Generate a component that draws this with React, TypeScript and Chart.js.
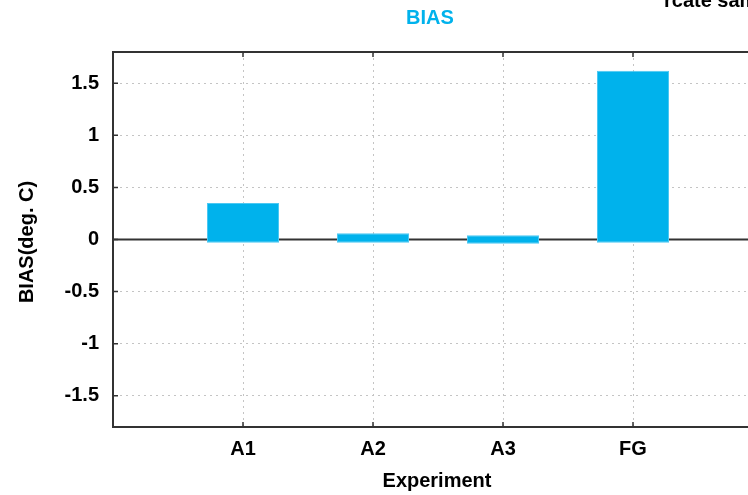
import React, { useEffect, useRef } from "react";
import { Chart, registerables } from "chart.js";

Chart.register(...registerables);

const categories = ["A1", "A2", "A3", "FG"];
const positions = [1, 2, 3, 4];
const barTops = [0.35, 0.06, 0.04, 1.62];
const barBases = [-0.03, -0.03, -0.04, -0.03];
const yTicks = [-1.5, -1, -0.5, 0, 0.5, 1, 1.5];
const titleText = "BIAS";
const yTitle = "BIAS(deg. C)";
const xTitle = "Experiment";
const cornerText = "rcate samples";

const FONT = "'Liberation Sans', Arial, Helvetica, sans-serif";
const CYAN = "#00b2ec";
const AXIS = "#333333";

const decorPlugin = {
  id: "decor",
  beforeDatasetsDraw(chart: any) {
    const { ctx, chartArea, scales } = chart;
    const y0 = scales.y.getPixelForValue(0);
    ctx.save();
    ctx.strokeStyle = AXIS;
    ctx.lineWidth = 2;
    ctx.beginPath();
    ctx.moveTo(chartArea.left, y0);
    ctx.lineTo(chartArea.right, y0);
    ctx.stroke();
    ctx.restore();
  },
  afterDraw(chart: any) {
    const { ctx, chartArea, scales } = chart;
    ctx.save();
    // top border
    ctx.strokeStyle = AXIS;
    ctx.lineWidth = 2;
    ctx.beginPath();
    ctx.moveTo(chartArea.left, chartArea.top);
    ctx.lineTo(chartArea.right, chartArea.top);
    ctx.stroke();
    // inward tick marks
    ctx.lineWidth = 1.5;
    ctx.beginPath();
    positions.forEach((p) => {
      const x = scales.x.getPixelForValue(p);
      ctx.moveTo(x, chartArea.bottom);
      ctx.lineTo(x, chartArea.bottom - 5);
      ctx.moveTo(x, chartArea.top);
      ctx.lineTo(x, chartArea.top + 5);
    });
    yTicks.forEach((v) => {
      const y = scales.y.getPixelForValue(v);
      ctx.moveTo(chartArea.left, y);
      ctx.lineTo(chartArea.left + 5, y);
    });
    ctx.stroke();
    // title
    ctx.fillStyle = CYAN;
    ctx.font = `bold 20px ${FONT}`;
    ctx.textAlign = "center";
    ctx.textBaseline = "middle";
    ctx.fillText(titleText, 430, 18);
    // corner text (cut off)
    ctx.fillStyle = "#000";
    ctx.textAlign = "left";
    ctx.textBaseline = "alphabetic";
    ctx.fillText(cornerText, 664, 7);
    // x title
    ctx.textAlign = "center";
    ctx.textBaseline = "middle";
    ctx.fillText(xTitle, 437, 481);
    // y title
    ctx.translate(27, 242);
    ctx.rotate(-Math.PI / 2);
    ctx.fillText(yTitle, 0, 0);
    ctx.restore();
  },
};

export default function App() {
  const ref = useRef<HTMLCanvasElement | null>(null);
  useEffect(() => {
    if (!ref.current) return;
    const chart = new Chart(ref.current, {
      type: "bar",
      data: {
        datasets: [
          {
            data: positions.map((p, i) => ({ x: p, y: [barBases[i], barTops[i]] })) as any,
            backgroundColor: CYAN,
            borderColor: "#4cc8f2",
            borderWidth: 1,
            borderSkipped: false,
            categoryPercentage: 1,
            barPercentage: 0.554,
          },
        ],
      },
      options: {
        animation: false,
        responsive: true,
        maintainAspectRatio: false,
        layout: { padding: { left: 0, top: 52, right: 37, bottom: 0 } },
        plugins: { legend: { display: false }, tooltip: { enabled: false } },
        scales: {
          x: {
            type: "linear",
            min: 0,
            max: 5,
            offset: false,
            afterBuildTicks: (s: any) => {
              s.ticks = positions.map((v) => ({ value: v }));
            },
            afterFit: (s: any) => {
              s.height = 68;
            },
            ticks: {
              autoSkip: false,
              maxRotation: 0,
              padding: 10,
              color: "#000",
              font: { family: FONT, size: 20, weight: "bold" },
              callback: (v: any) => categories[positions.indexOf(Number(v))] ?? "",
            },
            grid: {
              offset: false,
              drawTicks: false,
              color: "#c4c4c4",
              lineWidth: 1,
            },
            border: { display: true, color: AXIS, width: 2, dash: [2, 4] } as any,
          },
          y: {
            type: "linear",
            min: -1.8,
            max: 1.8,
            afterBuildTicks: (s: any) => {
              s.ticks = yTicks.map((v) => ({ value: v }));
            },
            afterFit: (s: any) => {
              s.width = 113;
            },
            ticks: {
              padding: 14,
              color: "#000",
              font: { family: FONT, size: 20, weight: "bold" },
              callback: (v: any) => String(v),
            },
            grid: {
              drawTicks: false,
              color: "#c4c4c4",
              lineWidth: 1,
            },
            border: { display: true, color: AXIS, width: 2, dash: [2, 4] } as any,
          },
        },
      },
      plugins: [decorPlugin],
    });
    return () => chart.destroy();
  }, []);
  return (
    <div style={{ position: "fixed", left: 0, top: 0, width: 748, height: 495, overflow: "hidden", background: "#fff" }}>
      <div style={{ position: "relative", width: 800, height: 495 }}>
        <canvas ref={ref} />
      </div>
    </div>
  );
}
